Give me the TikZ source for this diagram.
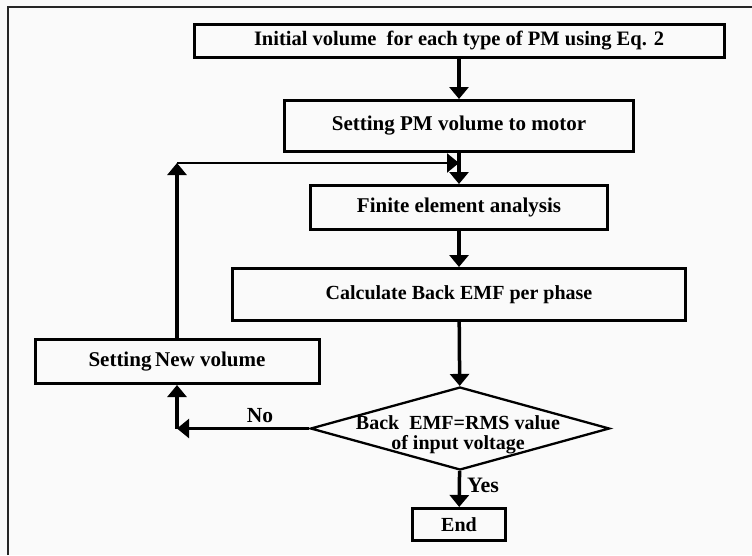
\documentclass[tikz,border=0pt]{standalone}
\usepackage{fontspec}
\setmainfont{Liberation Serif}
\usetikzlibrary{arrows.meta,shapes.geometric}
\definecolor{bg}{HTML}{FAFAFA}
\begin{document}
\begin{tikzpicture}[x=1pt,y=-1pt,
  box/.style={draw,line width=3pt,rectangle,inner sep=0pt},
  dia/.style={draw,diamond,line width=2.3pt,inner sep=0pt,minimum width=299pt,minimum height=83pt},
  txt/.style={inner sep=0pt},
  conn/.style={line width=3.5pt,-{Triangle[width=19pt,length=12pt]}},
  thinconn/.style={line width=2.2pt,-{Triangle[width=19pt,length=12pt]}},
  fA/.style={font=\bfseries\fontsize{20.5}{20.5}\selectfont},
  fB/.style={font=\bfseries\fontsize{21}{21}\selectfont},
  fD/.style={font=\bfseries\fontsize{20}{20}\selectfont},
  fC/.style={font=\bfseries\fontsize{20}{20}\selectfont}]
\fill[bg] (0,0) rectangle (752,555);
\useasboundingbox (0,0) rectangle (752,555);
\draw[line width=1.5pt,black!85] (8,555) -- (8,7) -- (752,7);

\node[box,minimum width=530pt,minimum height=33pt,fA] (b1) at (459,41) {Initial volume\ \ for each type of PM using Eq. 2};
\node[box,minimum width=349pt,minimum height=51pt,fB] (b2) at (459,126) {Setting PM volume to motor};
\node[box,minimum width=297pt,minimum height=44pt,fB] (b3) at (459,207.5) {Finite element analysis};
\node[box,minimum width=453pt,minimum height=52pt,fD] (b4) at (459,294.5) {Calculate Back EMF per phase};
\node[box,minimum width=284pt,minimum height=44pt,fB] (b5) at (177,361.5) {Setting\kern-1.5pt\ New volume};
\node[dia] (d) at (460,428.5) {};
\node[txt,fC,align=center] (dt) at (458,435) {Back\ \ EMF=RMS value\\of input voltage};
\node[box,minimum width=93pt,minimum height=32pt,fD] (e) at (459,524.5) {End};

\coordinate (c1) at (177,428.5);
\coordinate (c2) at (177,163);
\coordinate (c3) at (459,163);

\draw[conn] (b1) -- (b2);
\draw[conn] (b2) -- (b3);
\draw[conn] (b3) -- (b4);
\draw[conn] (b4) -- (d);
\draw[conn] (d) -- (e);
\node[txt,font=\bfseries\fontsize{22}{22}\selectfont] (yes) at (483,485) {Yes};
\draw[thinconn] (d.west) -- (c1);
\node[txt,font=\bfseries\fontsize{21.5}{21.5}\selectfont] (no) at (260,416) {No};
\draw[conn] (c1) -- (c1 |- b5.south);
\draw[conn] (b5.north -| c2) -- (c2);
\draw[thinconn] (c2) -- (c3);
\end{tikzpicture}
\end{document}
